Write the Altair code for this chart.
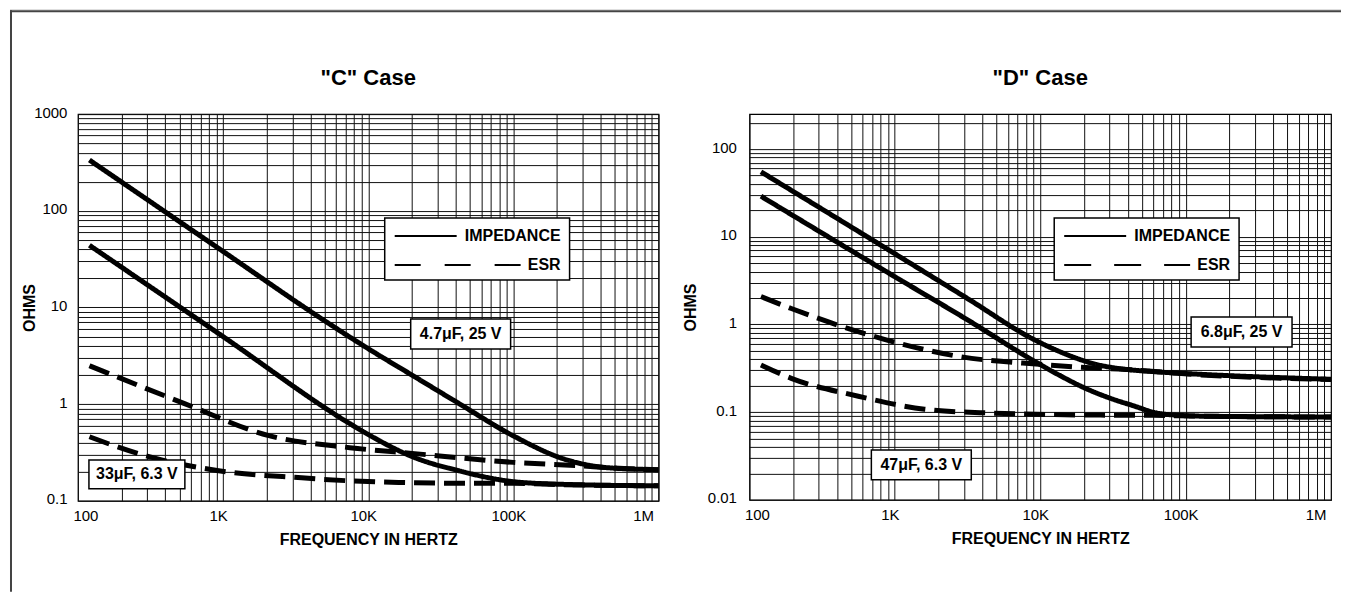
import altair as alt
import pandas as pd

FONT = "Liberation Sans"

# ---------------- shared x axis ----------------
x_decades = [100, 1000, 10000, 100000, 1000000]
x_decade_labels = ["100", "1K", "10K", "100K", "1M"]

# ---------------- "C" Case ----------------
c_y_decades = [0.1, 1, 10, 100, 1000]
c_y_labels = ["0.1", "1", "10", "100", "1000"]

c_imp47_freq = [120, 1000, 5000, 10000, 20000, 42000, 100000, 225000, 450000, 1000000]
c_imp47_ohms = [335, 38, 7.3, 3.75, 2.0, 1.02, 0.47, 0.27, 0.22, 0.21]
c_esr47_freq = [120, 537, 2065, 7460, 20900, 100000, 295000, 450000, 1000000]
c_esr47_ohms = [2.5, 1.02, 0.473, 0.355, 0.308, 0.25, 0.23, 0.22, 0.21]
c_imp33_freq = [120, 1000, 7460, 9460, 20900, 42000, 100000, 225000, 1000000]
c_imp33_ohms = [44, 5.0, 0.63, 0.51, 0.28, 0.205, 0.158, 0.148, 0.143]
c_esr33_freq = [120, 276, 932, 3480, 7460, 16200, 50000, 100000, 225000, 1000000]
c_esr33_ohms = [0.46, 0.30, 0.205, 0.173, 0.161, 0.155, 0.152, 0.152, 0.147, 0.143]

# ---------------- "D" Case ----------------
d_y_decades = [0.01, 0.1, 1, 10, 100]
d_y_labels = ["0.01", "0.1", "1", "10", "100"]

d_imp68_freq = [120, 1000, 3200, 9100, 12540, 17200, 23500, 34400, 60000, 128000, 1000000]
d_imp68_ohms = [55, 6.4, 1.95, 0.67, 0.52, 0.42, 0.355, 0.315, 0.29, 0.27, 0.237]
d_esr68_freq = [120, 194, 847, 2730, 9850, 26000, 34400, 128000, 1000000]
d_esr68_ohms = [2.08, 1.52, 0.676, 0.433, 0.351, 0.316, 0.31, 0.266, 0.235]
d_imp47_freq = [120, 1000, 3184, 9140, 13580, 20170, 29990, 44600, 61000, 90000, 128000, 1000000]
d_imp47_ohms = [29, 3.5, 1.12, 0.38, 0.263, 0.189, 0.145, 0.117, 0.099, 0.092, 0.09, 0.088]
d_esr47_freq = [120, 194, 561, 1600, 4600, 26000, 60000, 128000, 1000000]
d_esr47_ohms = [0.345, 0.243, 0.152, 0.108, 0.0977, 0.0925, 0.092, 0.09, 0.088]


def curves_df(entries):
    rows = []
    for name, kind, freqs, ohms in entries:
        for f, o in zip(freqs, ohms):
            rows.append({"curve": name, "kind": kind, "freq": f, "ohms": o})
    return pd.DataFrame(rows)


def log_grid(lo, hi):
    vals = []
    for e in range(-3, 7):
        for m in range(1, 10):
            v = round(m * 10 ** e, 10)
            if lo <= v <= hi:
                vals.append(v)
    return vals


def label_expr(vals, texts):
    parts = [f"datum.value == {v} ? '{t}'" for v, t in zip(vals, texts)]
    return " : ".join(parts) + " : ''"


def one():
    return pd.DataFrame({"k": [0]})


def box(x1, x2, y1, y2):
    return alt.Chart(one()).mark_rect(fill="white", stroke="black", strokeWidth=1.5).encode(
        x=alt.value(x1), x2=alt.value(x2), y=alt.value(y1), y2=alt.value(y2))


def text(t, x, y, size=16, align="center", weight="bold"):
    return alt.Chart(pd.DataFrame({"t": [t]})).mark_text(
        font=FONT, fontSize=size, fontWeight=weight, align=align, baseline="middle", color="black"
    ).encode(x=alt.value(x), y=alt.value(y), text="t:N")


def hrule(x1, x2, y, width=2, dash=None, color="black"):
    kw = dict(strokeWidth=width, color=color)
    if dash:
        kw["strokeDash"] = dash
    return alt.Chart(one()).mark_rule(**kw).encode(x=alt.value(x1), x2=alt.value(x2), y=alt.value(y))


def panel(df, title, y_domain, y_dec, y_lab, width, height, ytitle_x, ylabel_pad, extras):
    xaxis = alt.Axis(
        values=log_grid(100, 1e6), labelExpr=label_expr(x_decades, x_decade_labels),
        labelOverlap=False, grid=True, gridColor="#111", gridWidth=1, gridOpacity=1,
        ticks=False, domain=False, labelFont=FONT, labelFontSize=15, labelColor="black",
        labelPadding=8, labelOffset=-5,
        title="FREQUENCY IN HERTZ", titleFont=FONT, titleFontSize=16, titleFontWeight="bold",
        titleColor="black", titlePadding=8)
    yaxis = alt.Axis(
        values=log_grid(y_domain[0], y_domain[1]), labelExpr=label_expr(y_dec, y_lab),
        labelOverlap=False, grid=True, gridColor="#111", gridWidth=1, gridOpacity=1,
        ticks=False, domain=False, labelFont=FONT, labelFontSize=15, labelColor="black",
        labelPadding=ylabel_pad, labelOffset=-2, labelBaseline="middle",
        title="OHMS", titleFont=FONT, titleFontSize=16, titleFontWeight="bold",
        titleColor="black", titleAngle=270, titleX=ytitle_x, titleY=height / 2,
        titleAlign="center", titleBaseline="middle")
    lines = alt.Chart(df).mark_line(
        color="black", strokeWidth=5, interpolate="monotone", strokeCap="butt", strokeJoin="round"
    ).encode(
        x=alt.X("freq:Q", scale=alt.Scale(type="log", domain=[100, 1000000], nice=False), axis=xaxis),
        y=alt.Y("ohms:Q", scale=alt.Scale(type="log", domain=y_domain, nice=False), axis=yaxis),
        detail="curve:N",
        strokeDash=alt.StrokeDash("kind:N", scale=alt.Scale(domain=["IMPEDANCE", "ESR"], range=[[1, 0], [21, 9]]), legend=None),
    )
    ttl = text(title, width / 2, -36, size=22)
    return alt.layer(lines, ttl, *extras).properties(width=width, height=height)


C_W, C_H = 581, 387
D_W, D_H = 582, 386

c_df = curves_df([
    ("c47_imp", "IMPEDANCE", c_imp47_freq, c_imp47_ohms),
    ("c47_esr", "ESR", c_esr47_freq, c_esr47_ohms),
    ("c33_imp", "IMPEDANCE", c_imp33_freq, c_imp33_ohms),
    ("c33_esr", "ESR", c_esr33_freq, c_esr33_ohms),
])
d_df = curves_df([
    ("d68_imp", "IMPEDANCE", d_imp68_freq, d_imp68_ohms),
    ("d68_esr", "ESR", d_esr68_freq, d_esr68_ohms),
    ("d47_imp", "IMPEDANCE", d_imp47_freq, d_imp47_ohms),
    ("d47_esr", "ESR", d_esr47_freq, d_esr47_ohms),
])

frame = [
    alt.Chart(one()).mark_rect(color="#d3d3d3").encode(
        x=alt.value(-68), x2=alt.value(1264), y=alt.value(-105), y2=alt.value(-104)),
    hrule(-68, 1264, -103, width=2, color="#444"),
    alt.Chart(one()).mark_rule(strokeWidth=2, color="#444").encode(
        x=alt.value(-67), y=alt.value(-104), y2=alt.value(478)),
]

c_extras = frame + [
    box(307, 492, 104, 166),
    hrule(317, 379, 122),
    text("IMPEDANCE", 483, 122, align="right"),
    hrule(317, 443, 151, dash=[26, 24]),
    text("ESR", 483, 151, align="right"),
    box(333, 433, 205, 235),
    text("4.7μF, 25 V", 383, 220),
    box(11, 107, 346, 375),
    text("33μF, 6.3 V", 59, 360.5),
]
d_extras = [
    box(305, 490, 104, 166),
    hrule(315, 377, 122),
    text("IMPEDANCE", 481, 122, align="right"),
    hrule(315, 441, 151, dash=[27, 23]),
    text("ESR", 481, 151, align="right"),
    box(442, 543, 203, 233),
    text("6.8μF, 25 V", 492.5, 218),
    box(122, 222, 336, 366),
    text("47μF, 6.3 V", 172, 351),
]

c_panel = panel(c_df, '"C" Case', [0.1, 1000], c_y_decades, c_y_labels, C_W, C_H, -48, 11, c_extras)
d_panel = panel(d_df, '"D" Case', [0.01, 250], d_y_decades, d_y_labels, D_W, D_H, -59, 13, d_extras)

chart = alt.hconcat(c_panel, d_panel, spacing=91, bounds="flush", padding=0).configure_view(
    stroke="black", strokeWidth=1.2)

chart.save("out.html", embed_options={"renderer": "svg", "actions": False})
